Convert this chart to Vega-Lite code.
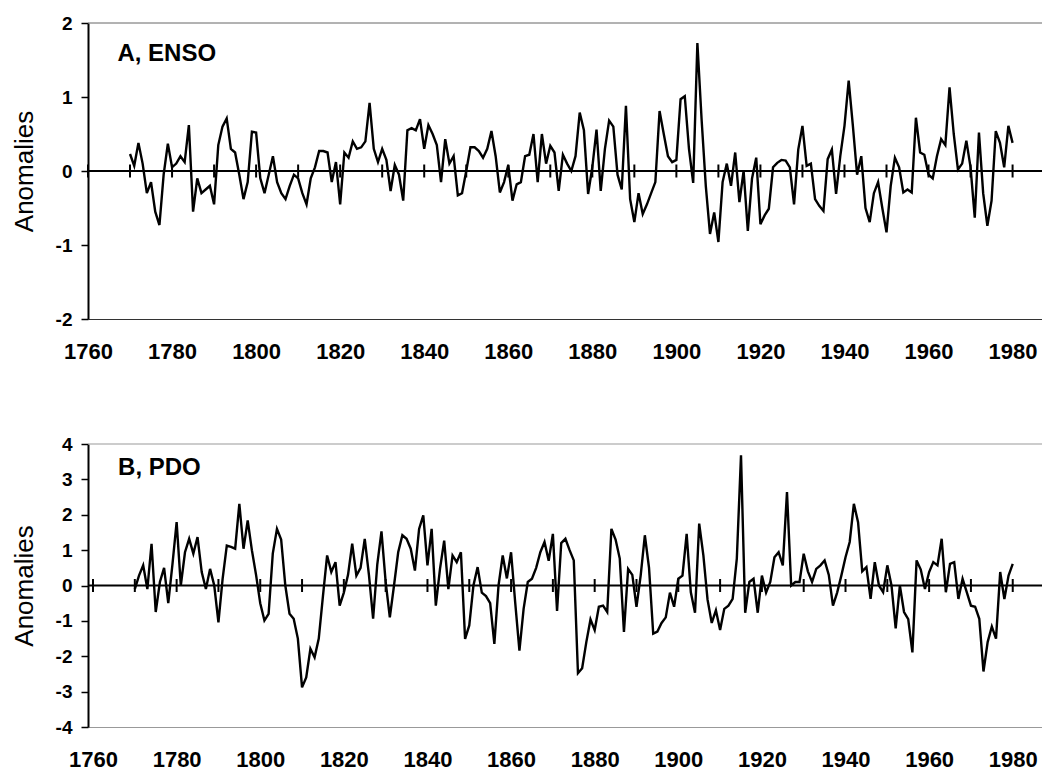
{
  "$schema": "https://vega.github.io/schema/vega-lite/v6.json",
  "padding": {"left": 11, "top": 14, "right": 0, "bottom": 0},
  "config": {
    "view": {"stroke": null},
    "font": "Liberation Sans",
    "axis": {"grid": false, "labelFont": "Liberation Sans", "labelFontWeight": "bold", "labelColor": "black", "titleFont": "Liberation Sans", "titleColor": "black", "labelOverlap": false},
    "axisY": {"labelOverlap": false, "labelBound": false}
  },
  "datasets": {
    "ticks": [{"yr":1760},{"yr":1770},{"yr":1780},{"yr":1790},{"yr":1800},{"yr":1810},{"yr":1820},{"yr":1830},{"yr":1840},{"yr":1850},{"yr":1860},{"yr":1870},{"yr":1880},{"yr":1890},{"yr":1900},{"yr":1910},{"yr":1920},{"yr":1930},{"yr":1940},{"yr":1950},{"yr":1960},{"yr":1970},{"yr":1980}],
    "one": [{"a": "A, ENSO", "b": "B, PDO"}],
    "enso": [
      {"yr":1770,"v":0.23},{"yr":1771,"v":0.07},{"yr":1772,"v":0.38},{"yr":1773,"v":0.1},{"yr":1774,"v":-0.3},{"yr":1775,"v":-0.15},{"yr":1776,"v":-0.55},{"yr":1777,"v":-0.73},{"yr":1778,"v":-0.05},{"yr":1779,"v":0.37},
      {"yr":1780,"v":0.05},{"yr":1781,"v":0.1},{"yr":1782,"v":0.2},{"yr":1783,"v":0.12},{"yr":1784,"v":0.62},{"yr":1785,"v":-0.55},{"yr":1786,"v":-0.1},{"yr":1787,"v":-0.3},{"yr":1788,"v":-0.25},{"yr":1789,"v":-0.2},
      {"yr":1790,"v":-0.45},{"yr":1791,"v":0.35},{"yr":1792,"v":0.6},{"yr":1793,"v":0.71},{"yr":1794,"v":0.3},{"yr":1795,"v":0.25},{"yr":1796,"v":-0.05},{"yr":1797,"v":-0.38},{"yr":1798,"v":-0.15},{"yr":1799,"v":0.53},
      {"yr":1800,"v":0.52},{"yr":1801,"v":-0.1},{"yr":1802,"v":-0.3},{"yr":1803,"v":-0.05},{"yr":1804,"v":0.2},{"yr":1805,"v":-0.15},{"yr":1806,"v":-0.3},{"yr":1807,"v":-0.38},{"yr":1808,"v":-0.2},{"yr":1809,"v":-0.05},
      {"yr":1810,"v":-0.1},{"yr":1811,"v":-0.3},{"yr":1812,"v":-0.45},{"yr":1813,"v":-0.1},{"yr":1814,"v":0.05},{"yr":1815,"v":0.27},{"yr":1816,"v":0.27},{"yr":1817,"v":0.25},{"yr":1818,"v":-0.15},{"yr":1819,"v":0.12},
      {"yr":1820,"v":-0.45},{"yr":1821,"v":0.25},{"yr":1822,"v":0.18},{"yr":1823,"v":0.4},{"yr":1824,"v":0.3},{"yr":1825,"v":0.32},{"yr":1826,"v":0.4},{"yr":1827,"v":0.92},{"yr":1828,"v":0.3},{"yr":1829,"v":0.12},
      {"yr":1830,"v":0.3},{"yr":1831,"v":0.15},{"yr":1832,"v":-0.27},{"yr":1833,"v":0.08},{"yr":1834,"v":-0.05},{"yr":1835,"v":-0.4},{"yr":1836,"v":0.55},{"yr":1837,"v":0.58},{"yr":1838,"v":0.55},{"yr":1839,"v":0.7},
      {"yr":1840,"v":0.3},{"yr":1841,"v":0.62},{"yr":1842,"v":0.5},{"yr":1843,"v":0.35},{"yr":1844,"v":-0.15},{"yr":1845,"v":0.43},{"yr":1846,"v":0.1},{"yr":1847,"v":0.2},{"yr":1848,"v":-0.33},{"yr":1849,"v":-0.3},
      {"yr":1850,"v":0.0},{"yr":1851,"v":0.32},{"yr":1852,"v":0.32},{"yr":1853,"v":0.27},{"yr":1854,"v":0.18},{"yr":1855,"v":0.3},{"yr":1856,"v":0.54},{"yr":1857,"v":0.2},{"yr":1858,"v":-0.29},{"yr":1859,"v":-0.15},
      {"yr":1860,"v":0.08},{"yr":1861,"v":-0.4},{"yr":1862,"v":-0.18},{"yr":1863,"v":-0.15},{"yr":1864,"v":0.2},{"yr":1865,"v":0.22},{"yr":1866,"v":0.5},{"yr":1867,"v":-0.15},{"yr":1868,"v":0.5},{"yr":1869,"v":0.1},
      {"yr":1870,"v":0.34},{"yr":1871,"v":0.25},{"yr":1872,"v":-0.27},{"yr":1873,"v":0.22},{"yr":1874,"v":0.1},{"yr":1875,"v":0.0},{"yr":1876,"v":0.2},{"yr":1877,"v":0.79},{"yr":1878,"v":0.55},{"yr":1879,"v":-0.31},
      {"yr":1880,"v":0.05},{"yr":1881,"v":0.56},{"yr":1882,"v":-0.27},{"yr":1883,"v":0.3},{"yr":1884,"v":0.68},{"yr":1885,"v":0.6},{"yr":1886,"v":-0.05},{"yr":1887,"v":-0.25},{"yr":1888,"v":0.88},{"yr":1889,"v":-0.38},
      {"yr":1890,"v":-0.69},{"yr":1891,"v":-0.3},{"yr":1892,"v":-0.58},{"yr":1893,"v":-0.45},{"yr":1894,"v":-0.3},{"yr":1895,"v":-0.15},{"yr":1896,"v":0.81},{"yr":1897,"v":0.5},{"yr":1898,"v":0.2},{"yr":1899,"v":0.12},
      {"yr":1900,"v":0.15},{"yr":1901,"v":0.97},{"yr":1902,"v":1.01},{"yr":1903,"v":0.3},{"yr":1904,"v":-0.16},{"yr":1905,"v":1.73},{"yr":1906,"v":0.7},{"yr":1907,"v":-0.2},{"yr":1908,"v":-0.85},{"yr":1909,"v":-0.56},
      {"yr":1910,"v":-0.96},{"yr":1911,"v":-0.15},{"yr":1912,"v":0.1},{"yr":1913,"v":-0.2},{"yr":1914,"v":0.25},{"yr":1915,"v":-0.42},{"yr":1916,"v":0.0},{"yr":1917,"v":-0.81},{"yr":1918,"v":-0.1},{"yr":1919,"v":0.18},
      {"yr":1920,"v":-0.72},{"yr":1921,"v":-0.6},{"yr":1922,"v":-0.51},{"yr":1923,"v":0.05},{"yr":1924,"v":0.11},{"yr":1925,"v":0.15},{"yr":1926,"v":0.14},{"yr":1927,"v":0.05},{"yr":1928,"v":-0.45},{"yr":1929,"v":0.29},
      {"yr":1930,"v":0.61},{"yr":1931,"v":0.07},{"yr":1932,"v":0.1},{"yr":1933,"v":-0.38},{"yr":1934,"v":-0.47},{"yr":1935,"v":-0.54},{"yr":1936,"v":0.16},{"yr":1937,"v":0.29},{"yr":1938,"v":-0.31},{"yr":1939,"v":0.2},
      {"yr":1940,"v":0.61},{"yr":1941,"v":1.22},{"yr":1942,"v":0.61},{"yr":1943,"v":-0.05},{"yr":1944,"v":0.2},{"yr":1945,"v":-0.5},{"yr":1946,"v":-0.69},{"yr":1947,"v":-0.3},{"yr":1948,"v":-0.15},{"yr":1949,"v":-0.5},
      {"yr":1950,"v":-0.83},{"yr":1951,"v":-0.2},{"yr":1952,"v":0.18},{"yr":1953,"v":0.05},{"yr":1954,"v":-0.29},{"yr":1955,"v":-0.25},{"yr":1956,"v":-0.29},{"yr":1957,"v":0.72},{"yr":1958,"v":0.25},{"yr":1959,"v":0.22},
      {"yr":1960,"v":-0.05},{"yr":1961,"v":-0.1},{"yr":1962,"v":0.2},{"yr":1963,"v":0.43},{"yr":1964,"v":0.35},{"yr":1965,"v":1.13},{"yr":1966,"v":0.5},{"yr":1967,"v":0.02},{"yr":1968,"v":0.1},{"yr":1969,"v":0.41},
      {"yr":1970,"v":0.05},{"yr":1971,"v":-0.63},{"yr":1972,"v":0.52},{"yr":1973,"v":-0.3},{"yr":1974,"v":-0.74},{"yr":1975,"v":-0.4},{"yr":1976,"v":0.54},{"yr":1977,"v":0.38},{"yr":1978,"v":0.05},{"yr":1979,"v":0.61},
      {"yr":1980,"v":0.38}
    ],
    "pdo": [
      {"yr":1770,"v":-0.1},{"yr":1771,"v":0.28},{"yr":1772,"v":0.57},{"yr":1773,"v":-0.1},{"yr":1774,"v":1.18},{"yr":1775,"v":-0.75},{"yr":1776,"v":0.1},{"yr":1777,"v":0.5},{"yr":1778,"v":-0.5},{"yr":1779,"v":0.6},
      {"yr":1780,"v":1.79},{"yr":1781,"v":0.0},{"yr":1782,"v":0.94},{"yr":1783,"v":1.32},{"yr":1784,"v":0.9},{"yr":1785,"v":1.37},{"yr":1786,"v":0.38},{"yr":1787,"v":-0.1},{"yr":1788,"v":0.47},{"yr":1789,"v":0.0},
      {"yr":1790,"v":-1.04},{"yr":1791,"v":0.19},{"yr":1792,"v":1.13},{"yr":1793,"v":1.09},{"yr":1794,"v":1.04},{"yr":1795,"v":2.31},{"yr":1796,"v":1.04},{"yr":1797,"v":1.84},{"yr":1798,"v":1.0},{"yr":1799,"v":0.3},
      {"yr":1800,"v":-0.5},{"yr":1801,"v":-0.99},{"yr":1802,"v":-0.8},{"yr":1803,"v":0.9},{"yr":1804,"v":1.6},{"yr":1805,"v":1.3},{"yr":1806,"v":0.0},{"yr":1807,"v":-0.8},{"yr":1808,"v":-0.94},{"yr":1809,"v":-1.5},
      {"yr":1810,"v":-2.88},{"yr":1811,"v":-2.6},{"yr":1812,"v":-1.79},{"yr":1813,"v":-2.03},{"yr":1814,"v":-1.5},{"yr":1815,"v":-0.3},{"yr":1816,"v":0.85},{"yr":1817,"v":0.38},{"yr":1818,"v":0.66},{"yr":1819,"v":-0.57},
      {"yr":1820,"v":-0.2},{"yr":1821,"v":0.3},{"yr":1822,"v":1.18},{"yr":1823,"v":0.28},{"yr":1824,"v":0.5},{"yr":1825,"v":1.32},{"yr":1826,"v":0.3},{"yr":1827,"v":-0.94},{"yr":1828,"v":0.6},{"yr":1829,"v":1.53},
      {"yr":1830,"v":0.1},{"yr":1831,"v":-0.9},{"yr":1832,"v":0.0},{"yr":1833,"v":0.94},{"yr":1834,"v":1.42},{"yr":1835,"v":1.32},{"yr":1836,"v":1.04},{"yr":1837,"v":0.42},{"yr":1838,"v":1.6},{"yr":1839,"v":1.98},
      {"yr":1840,"v":0.57},{"yr":1841,"v":1.6},{"yr":1842,"v":-0.57},{"yr":1843,"v":0.47},{"yr":1844,"v":1.27},{"yr":1845,"v":-0.1},{"yr":1846,"v":0.85},{"yr":1847,"v":0.66},{"yr":1848,"v":0.94},{"yr":1849,"v":-1.51},
      {"yr":1850,"v":-1.13},{"yr":1851,"v":0.0},{"yr":1852,"v":0.52},{"yr":1853,"v":-0.2},{"yr":1854,"v":-0.3},{"yr":1855,"v":-0.5},{"yr":1856,"v":-1.65},{"yr":1857,"v":0.0},{"yr":1858,"v":0.85},{"yr":1859,"v":0.2},
      {"yr":1860,"v":0.94},{"yr":1861,"v":-0.5},{"yr":1862,"v":-1.84},{"yr":1863,"v":-0.66},{"yr":1864,"v":0.1},{"yr":1865,"v":0.19},{"yr":1866,"v":0.5},{"yr":1867,"v":0.94},{"yr":1868,"v":1.23},{"yr":1869,"v":0.7},
      {"yr":1870,"v":1.46},{"yr":1871,"v":-0.72},{"yr":1872,"v":1.2},{"yr":1873,"v":1.32},{"yr":1874,"v":1.0},{"yr":1875,"v":0.71},{"yr":1876,"v":-2.48},{"yr":1877,"v":-2.34},{"yr":1878,"v":-1.6},{"yr":1879,"v":-0.96},
      {"yr":1880,"v":-1.26},{"yr":1881,"v":-0.6},{"yr":1882,"v":-0.57},{"yr":1883,"v":-0.75},{"yr":1884,"v":1.6},{"yr":1885,"v":1.3},{"yr":1886,"v":0.76},{"yr":1887,"v":-1.31},{"yr":1888,"v":0.47},{"yr":1889,"v":0.3},
      {"yr":1890,"v":-0.6},{"yr":1891,"v":0.28},{"yr":1892,"v":1.42},{"yr":1893,"v":0.5},{"yr":1894,"v":-1.36},{"yr":1895,"v":-1.3},{"yr":1896,"v":-1.06},{"yr":1897,"v":-0.9},{"yr":1898,"v":-0.2},{"yr":1899,"v":-0.6},
      {"yr":1900,"v":0.19},{"yr":1901,"v":0.28},{"yr":1902,"v":1.46},{"yr":1903,"v":-0.19},{"yr":1904,"v":-0.77},{"yr":1905,"v":1.75},{"yr":1906,"v":0.85},{"yr":1907,"v":-0.4},{"yr":1908,"v":-1.06},{"yr":1909,"v":-0.7},
      {"yr":1910,"v":-1.26},{"yr":1911,"v":-0.66},{"yr":1912,"v":-0.57},{"yr":1913,"v":-0.38},{"yr":1914,"v":0.76},{"yr":1915,"v":3.68},{"yr":1916,"v":-0.77},{"yr":1917,"v":0.1},{"yr":1918,"v":0.19},{"yr":1919,"v":-0.77},
      {"yr":1920,"v":0.28},{"yr":1921,"v":-0.2},{"yr":1922,"v":0.1},{"yr":1923,"v":0.8},{"yr":1924,"v":0.94},{"yr":1925,"v":0.57},{"yr":1926,"v":2.64},{"yr":1927,"v":0.0},{"yr":1928,"v":0.1},{"yr":1929,"v":0.1},
      {"yr":1930,"v":0.9},{"yr":1931,"v":0.4},{"yr":1932,"v":0.1},{"yr":1933,"v":0.47},{"yr":1934,"v":0.57},{"yr":1935,"v":0.71},{"yr":1936,"v":0.3},{"yr":1937,"v":-0.57},{"yr":1938,"v":-0.2},{"yr":1939,"v":0.28},
      {"yr":1940,"v":0.8},{"yr":1941,"v":1.23},{"yr":1942,"v":2.31},{"yr":1943,"v":1.79},{"yr":1944,"v":0.4},{"yr":1945,"v":0.52},{"yr":1946,"v":-0.38},{"yr":1947,"v":0.66},{"yr":1948,"v":0.0},{"yr":1949,"v":-0.19},
      {"yr":1950,"v":0.57},{"yr":1951,"v":0.0},{"yr":1952,"v":-1.21},{"yr":1953,"v":0.0},{"yr":1954,"v":-0.75},{"yr":1955,"v":-0.95},{"yr":1956,"v":-1.89},{"yr":1957,"v":0.71},{"yr":1958,"v":0.45},{"yr":1959,"v":-0.1},
      {"yr":1960,"v":0.38},{"yr":1961,"v":0.66},{"yr":1962,"v":0.57},{"yr":1963,"v":1.32},{"yr":1964,"v":-0.19},{"yr":1965,"v":0.61},{"yr":1966,"v":0.66},{"yr":1967,"v":-0.38},{"yr":1968,"v":0.19},{"yr":1969,"v":-0.19},
      {"yr":1970,"v":-0.57},{"yr":1971,"v":-0.6},{"yr":1972,"v":-0.94},{"yr":1973,"v":-2.43},{"yr":1974,"v":-1.6},{"yr":1975,"v":-1.16},{"yr":1976,"v":-1.5},{"yr":1977,"v":0.38},{"yr":1978,"v":-0.38},{"yr":1979,"v":0.28},
      {"yr":1980,"v":0.61}
    ]
  },
  "spacing": 73,
  "vconcat": [
    {
      "width": 954,
      "height": 296,
      "layer": [
        {
          "data": {"name": "enso"},
          "mark": {"type": "line", "color": "black", "strokeWidth": 2.4},
          "encoding": {
            "x": {"field": "yr", "type": "quantitative", "scale": {"domain": [1760, 1987], "nice": false, "zero": false},
                  "axis": {"title": null, "values": [1760,1780,1800,1820,1840,1860,1880,1900,1920,1940,1960,1980], "format": "d", "ticks": false, "labelPadding": 22, "labelFontSize": 22, "labelFlush": false, "labelOverlap": false, "domainColor": "#333333", "domainWidth": 1}},
            "y": {"field": "v", "type": "quantitative", "scale": {"domain": [-2, 2], "nice": false},
                  "axis": {"title": "Anomalies", "titleFontSize": 26, "titleFontWeight": "normal", "titlePadding": 18, "values": [-2,-1,0,1,2], "tickCount": 5, "labelExpr": "datum.value < 0 ? '-' + abs(datum.value) : '' + datum.value", "labelOverlap": false, "tickSize": 7, "tickColor": "black", "tickWidth": 1.5, "domainColor": "black", "domainWidth": 2, "labelPadding": 9, "labelFontSize": 19}}
          }
        },
        {"data": {"name": "one"}, "mark": {"type": "rule", "color": "#666666", "strokeWidth": 1}, "encoding": {"y": {"datum": 2, "type": "quantitative"}}},
        {"data": {"name": "one"}, "mark": {"type": "rule", "color": "black", "strokeWidth": 2}, "encoding": {"y": {"datum": 0, "type": "quantitative"}}},
        {"data": {"name": "ticks"}, "mark": {"type": "tick", "orient": "vertical", "size": 13, "thickness": 2, "color": "black", "opacity": 1},
         "encoding": {"x": {"field": "yr", "type": "quantitative"}, "y": {"datum": 0, "type": "quantitative"}}},
        {"data": {"name": "one"}, "mark": {"type": "text", "align": "left", "baseline": "middle", "fontSize": 24, "fontWeight": "bold", "font": "Liberation Sans", "color": "black"}, "encoding": {"x": {"datum": 1767}, "y": {"datum": 1.58}, "text": {"field": "a"}}}
      ]
    },
    {
      "width": 954,
      "height": 283,
      "layer": [
        {
          "data": {"name": "pdo"},
          "mark": {"type": "line", "color": "black", "strokeWidth": 2.4},
          "encoding": {
            "x": {"field": "yr", "type": "quantitative", "scale": {"domain": [1758.8, 1987], "nice": false, "zero": false},
                  "axis": {"title": null, "values": [1760,1780,1800,1820,1840,1860,1880,1900,1920,1940,1960,1980], "format": "d", "ticks": false, "labelPadding": 22, "labelFontSize": 22, "labelFlush": false, "labelOverlap": false, "domainColor": "#999999", "domainWidth": 1}},
            "y": {"field": "v", "type": "quantitative", "scale": {"domain": [-4, 4], "nice": false},
                  "axis": {"title": "Anomalies", "titleFontSize": 26, "titleFontWeight": "normal", "titlePadding": 18, "values": [-4,-3,-2,-1,0,1,2,3,4], "tickCount": 9, "labelExpr": "datum.value < 0 ? '-' + abs(datum.value) : '' + datum.value", "labelOverlap": false, "tickSize": 7, "tickColor": "black", "tickWidth": 1.5, "domainColor": "black", "domainWidth": 2, "labelPadding": 9, "labelFontSize": 19}}
          }
        },
        {"data": {"name": "one"}, "mark": {"type": "rule", "color": "#999999", "strokeWidth": 1}, "encoding": {"y": {"datum": 4, "type": "quantitative"}}},
        {"data": {"name": "one"}, "mark": {"type": "rule", "color": "black", "strokeWidth": 2}, "encoding": {"y": {"datum": 0, "type": "quantitative"}}},
        {"data": {"name": "ticks"}, "mark": {"type": "tick", "orient": "vertical", "size": 13, "thickness": 2, "color": "black", "opacity": 1},
         "encoding": {"x": {"field": "yr", "type": "quantitative"}, "y": {"datum": 0, "type": "quantitative"}}},
        {"data": {"name": "one"}, "mark": {"type": "text", "align": "left", "baseline": "middle", "fontSize": 24, "fontWeight": "bold", "font": "Liberation Sans", "color": "black"}, "encoding": {"x": {"datum": 1766}, "y": {"datum": 3.33}, "text": {"field": "b"}}}
      ]
    }
  ]
}
